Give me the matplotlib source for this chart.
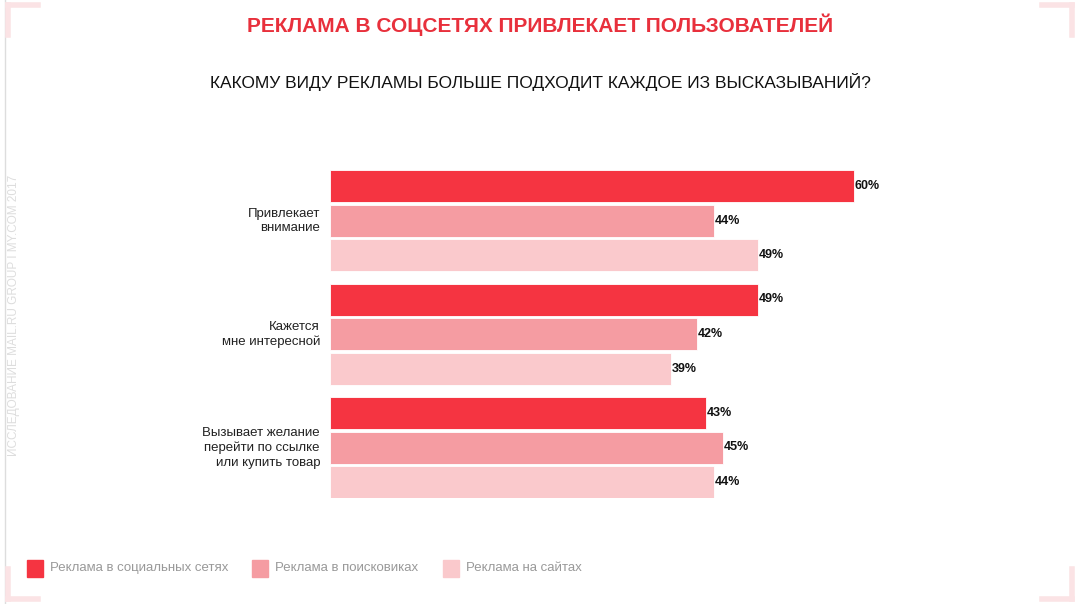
import matplotlib
matplotlib.use("Agg")
import matplotlib.pyplot as plt
from matplotlib.patches import Rectangle

categories = ["Привлекает\nвнимание", "Кажется\nмне интересной", "Вызывает желание\nперейти по ссылке\nили купить товар"]
series = ["Реклама в социальных сетях", "Реклама в поисковиках", "Реклама на сайтах"]
values = [[60, 49, 43], [44, 42, 45], [49, 39, 44]]
colors = ["#F53441", "#F59CA2", "#FAC9CC"]

W, H = 1080, 604
fig = plt.figure(figsize=(W/100, H/100), dpi=100)
fig.patch.set_facecolor("white")
ax = fig.add_axes([330/W, 1-498/H, 712/W, 328/H])
ax.set_xlim(0, 712/8.733)
ax.set_ylim(498, 170)
ax.axis("off")

for g, cat in enumerate(categories):
    top = 170 + g*113.5
    for s in range(3):
        y = top + s*34.5 + 16
        v = values[s][g]
        ax.barh(y, v, height=32, color=colors[s], edgecolor="white", linewidth=0.6)
        ax.text(v + 0.1, y, f"{v}%", va="center", ha="left", fontsize=9, fontweight="bold", color="#111111", family="Liberation Sans")
    fig.text(320/W, 1-(top+51)/H, cat, ha="right", va="center", fontsize=9.5, color="#222222", family="Liberation Sans", linespacing=1.25)

fig.text(540/W, 1-25/H, "РЕКЛАМА В СОЦСЕТЯХ ПРИВЛЕКАЕТ ПОЛЬЗОВАТЕЛЕЙ", ha="center", va="center",
         fontsize=15, fontweight="bold", color="#E8303C", family="Liberation Sans")
fig.text(540/W, 1-82/H, "КАКОМУ ВИДУ РЕКЛАМЫ БОЛЬШЕ ПОДХОДИТ КАЖДОЕ ИЗ ВЫСКАЗЫВАНИЙ?", ha="center", va="center",
         fontsize=12.5, color="#111111", family="Liberation Sans")
fig.text(14/W, 1-315/H, "ИССЛЕДОВАНИЕ MAIL.RU GROUP I MY.COM 2017", rotation=90, ha="center", va="center",
         fontsize=8.5, color="#DDDDDD", family="Liberation Sans")
fig.add_artist(plt.Line2D([5/W, 5/W], [0, 1], color="#DDDDDD", lw=1))

lx = [27, 252, 443]
for i, s in enumerate(series):
    fig.add_artist(Rectangle((lx[i]/W, 1-577/H), 16/W, 17/H, color=colors[i]))
    fig.text((lx[i]+23)/W, 1-568/H, s, ha="left", va="center", fontsize=9.5, color="#999999", family="Liberation Sans")

# corner marks
cc = "#FBE3E5"
for (x0, y0, dx, dy) in [(8, 5, 1, 1), (1072, 5, -1, 1), (8, 599, 1, -1), (1072, 599, -1, -1)]:
    fig.add_artist(plt.Line2D([x0/W, (x0+dx*30)/W], [1-y0/H, 1-y0/H], color=cc, lw=4))
    fig.add_artist(plt.Line2D([x0/W, x0/W], [1-y0/H, 1-(y0+dy*30)/H], color=cc, lw=4))

fig.savefig("out.png", dpi=100)
